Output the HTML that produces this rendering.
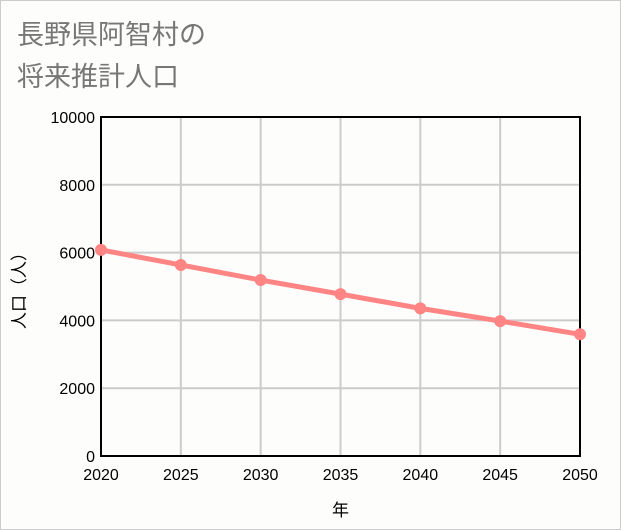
<!DOCTYPE html>
<html><head><meta charset="utf-8"><style>
body{margin:0;background:#fff}
#wrap{position:relative;width:619px;height:528px;border:1px solid #ccc;background:#fdfefb;font-family:"Liberation Sans","Noto Sans CJK JP",sans-serif}
.title{position:absolute;left:16px;font-size:27px;color:#777}
</style></head><body>
<div id="wrap">
<div class="title" style="top:12px">長野県阿智村の</div>
<div class="title" style="top:54px">将来推計人口</div>
<svg id="svg" width="619" height="528" style="position:absolute;left:0;top:0"></svg>
</div>
<script>
const years=[2020,2025,2030,2035,2040,2045,2050];
const population=[6080,5635,5190,4775,4355,3980,3590];
const yTicks=[0,2000,4000,6000,8000,10000];
const L=100,R=579,T=116,B=455;
const xs=v=>L+(v-2020)/30*(R-L);
const ys=v=>B-v/10000*(B-T);
const s=document.getElementById('svg');const NS='http://www.w3.org/2000/svg';
function mk(t,a,txt){const e=document.createElementNS(NS,t);for(const k in a)e.setAttribute(k,a[k]);if(txt!=null)e.textContent=txt;s.appendChild(e);return e;}
yTicks.forEach(v=>{const g=mk('line',{x1:L,x2:R,y1:ys(v),y2:ys(v),stroke:'#ccc','stroke-width':2});


const t=mk('text',{x:L-6,y:ys(v)+6,'text-anchor':'end','font-size':16,fill:'#000'},v);

});
years.forEach(v=>{const g=mk('line',{x1:xs(v),x2:xs(v),y1:T,y2:B,stroke:'#ccc','stroke-width':2});


const t=mk('text',{x:xs(v),y:B+24,'text-anchor':'middle','font-size':16,fill:'#000'},v);

});
const fr=mk('rect',{x:L,y:T,width:R-L,height:B-T,fill:'none',stroke:'#000','stroke-width':2});


const ln=mk('polyline',{points:years.map((y,i)=>xs(y)+','+ys(population[i])).join(' '),fill:'none',stroke:'#ff8585','stroke-width':5});


years.forEach((y,i)=>{const c=mk('circle',{cx:xs(y),cy:ys(population[i]),r:6,fill:'#ff8585'});

});
const xt=mk('text',{x:(L+R)/2,y:515,'text-anchor':'middle','font-size':17,fill:'#000'},'年');


const yt=mk('text',{x:0,y:0,'text-anchor':'middle','font-size':17,fill:'#000',transform:'translate(24,'+((T+B)/2)+') rotate(-90)'},'人口（人）');


</script>
</body></html>
